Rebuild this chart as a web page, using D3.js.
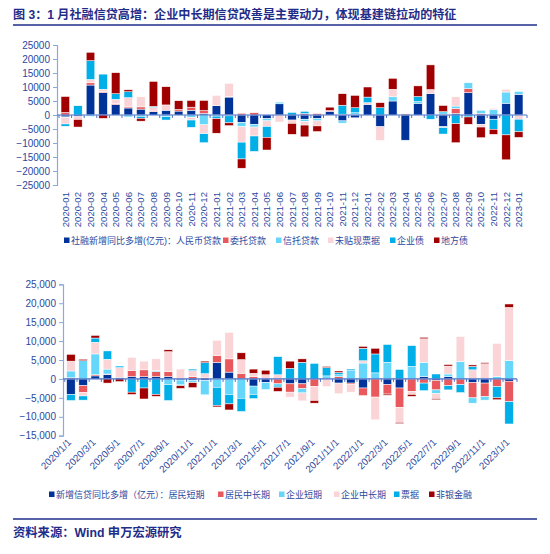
<!DOCTYPE html>
<html>
<head>
<meta charset="utf-8">
<script src="https://cdn.jsdelivr.net/npm/d3@7"></script>
<style>
  html, body { margin: 0; padding: 0; background: #fff; }
  svg { display: block; }
  text { font-family: "Liberation Sans", Arial, "Noto Sans CJK SC", sans-serif; }
</style>
</head>
<body>
<svg id="chart" width="550" height="554"></svg>
<script>
// ---------- Top chart data (社融新增同比多增, 亿元) ----------
const topMonths = ["2020-01","2020-02","2020-03","2020-04","2020-05","2020-06","2020-07","2020-08","2020-09","2020-10","2020-11","2020-12",
  "2021-01","2021-02","2021-03","2021-04","2021-05","2021-06","2021-07","2021-08","2021-09","2021-10","2021-11","2021-12",
  "2022-01","2022-02","2022-03","2022-04","2022-05","2022-06","2022-07","2022-08","2022-09","2022-10","2022-11","2022-12","2023-01"];
const rmbLoan     = [-700,-600,10700,8000,3700,2500,2100,1200,1700,1400,1700,600, 3300,6400,-2700,-3300,-1300,4000,-1800,-1500,-1300,1300,-2100,-1000, 3800,-4200,5000,-9000,4200,7700,-4200,600,8000,-3300,-1500,4200,7400];
const entrustLoan = [900,0,800,400,400,400,800,200,0,600,1100,1000, 0,200,600,800,0,0,0,500,500,300,300,200, 0,0,0,400,0,0,300,1800,1400,500,0,0,0];
const trustLoan   = [-200,0,-500,0,0,-700,-500,0,-600,0,-800,-3500, -400,-300,-1500,-1000,-800,600,0,-800,-800,0,-800,600, 0,0,1500,200,600,0,900,800,2100,1200,1900,4000,1000];
const undiscBill  = [-2300,-1000,1200,800,1500,3300,3600,1300,1900,0,-1000,-3200, 3700,4700,-5500,-3200,-2000,-2500,-1200,-1300,-1800,0,0,0, 600,-4900,2700,0,0,1400,-300,3300,0,-1000,500,1000,-1500];
const corpBond    = [-800,3300,6700,5400,2000,2100,-700,400,-1200,0,-2600,-3200, -900,-2500,-6000,-5500,-3900,0,900,800,0,0,3200,1800, 2000,2600,0,0,1800,-1500,-2300,-3100,-700,0,-3600,-7100,-4500];
const localBond   = [5700,-2700,3000,-1200,7500,700,-1000,8900,6500,3100,2400,3600, -5200,-1000,-3300,0,-4500,0,-3900,-4200,-2000,1200,4100,4400, 3600,1800,3900,0,3800,8800,2200,-6800,-2600,-3800,-1800,-8900,-2000];
const topTicks = [25000,20000,15000,10000,5000,0,-5000,-10000,-15000,-20000,-25000];
const topLegendLabels = ["社融新增同比多增(亿元)：人民币贷款","委托贷款","信托贷款","未贴现票据","企业债","地方债"];

// ---------- Bottom chart data (新增信贷同比多增, 亿元) ----------
const botMonths = ["2020/1/1","2020/2/1","2020/3/1","2020/4/1","2020/5/1","2020/6/1","2020/7/1","2020/8/1","2020/9/1","2020/10/1","2020/11/1","2020/12/1",
  "2021/1/1","2021/2/1","2021/3/1","2021/4/1","2021/5/1","2021/6/1","2021/7/1","2021/8/1","2021/9/1","2021/10/1","2021/11/1","2021/12/1",
  "2022/1/1","2022/2/1","2022/3/1","2022/4/1","2022/5/1","2022/6/1","2022/7/1","2022/8/1","2022/9/1","2022/10/1","2022/11/1","2022/12/1","2023/1/1"];
const hhShort   = [-4100,-1800,800,1100,400,600,600,600,600,-300,-400,-400, 4400,1800,0,-1900,-900,0,-1300,-1300,0,0,-1100,-1100, -2400,0,-1500,-2400,0,600,-400,600,0,-1000,-1100,0,-600];
const hhLong    = [300,-1800,300,200,0,1600,1800,1300,1300,0,600,400, 1800,3500,1500,600,0,-1300,-2200,-1300,-2000,0,600,-400, -2000,-4800,-2500,-5100,-3300,-1100,-2500,-1800,-1500,-4000,-3600,-2000,-5400];
const corpShort = [1800,4800,5500,1300,0,0,0,300,-1500,-1200,-600,-3800, -2200,-4100,-5100,-2200,-1900,-900,0,-1100,0,800,500,2200, 4200,1600,4400,0,3300,3800,-1000,700,4600,-1400,-900,600,4800];
const corpLong  = [2600,-900,3100,2600,2600,3500,2300,3100,5300,2600,1600,1000, 4000,7000,3600,900,1100,1100,-1300,-2100,-3700,-2000,-2800,-2000, 600,-6000,0,-4000,-800,6200,-1300,2100,6600,2400,4000,8800,14100];
const billFin   = [-1600,-1100,1100,2200,400,-3500,-2400,-4100,-4200,-300,400,2900, -4800,-2500,-3500,-1100,0,4800,2800,4400,4100,2200,600,400, 3300,5000,4700,2500,5500,-2000,1300,-1100,-2100,900,0,-3000,-5900];
const nonBank   = [1800,400,700,-1100,-700,-600,-2900,-500,500,-700,-1300,400, -400,-1600,1800,1100,1200,-1100,1900,900,-700,300,400,0, 500,1500,-300,-300,-500,400,-300,400,0,400,300,-500,900];
const botTicks = [25000,20000,15000,10000,5000,0,-5000,-10000,-15000];
const botLegendLabels = ["新增信贷同比多增（亿元）：居民短期","居民中长期","企业短期","企业中长期","票据","非银金融"];

const colors = ["#003399","#e8585c","#66d6fa","#fad4d6","#00aee8","#a00000"];
const textBlue = "#2a48a0";
const axisBlue = "#8aa9dc";
const navy = "#1f2d8a";

const svg = d3.select("#chart");

// Title
svg.append("text").attr("x", 13).attr("y", 19)
  .attr("font-size", 12.1).attr("font-weight", "bold").attr("fill", navy)
  .attr("font-family", "'Noto Sans CJK SC', sans-serif")
  .text("图 3：1 月社融信贷高增：企业中长期信贷改善是主要动力，体现基建链拉动的特征");
svg.append("line").attr("x1", 13).attr("x2", 537).attr("y1", 25).attr("y2", 25)
  .attr("stroke", navy).attr("stroke-width", 1.6);

// Footer
svg.append("line").attr("x1", 13).attr("x2", 537).attr("y1", 519).attr("y2", 519)
  .attr("stroke", navy).attr("stroke-width", 1.6);
svg.append("text").attr("x", 13).attr("y", 537)
  .attr("font-size", 12.3).attr("font-weight", "bold").attr("fill", navy)
  .attr("font-family", "'Noto Sans CJK SC', sans-serif")
  .text("资料来源：Wind  申万宏源研究");

function drawChart(cfg) {
  const keys = d3.range(cfg.series.length);
  const rows = cfg.cats.map((c, i) => {
    const r = { cat: c };
    keys.forEach(k => r[k] = cfg.series[k][i]);
    return r;
  });
  const stacked = d3.stack().keys(keys).offset(d3.stackOffsetDiverging)(rows);

  const x = d3.scaleBand().domain(cfg.cats).range([cfg.x0, cfg.x1]).padding(cfg.pad);
  const y = d3.scaleLinear().domain([cfg.ticks[cfg.ticks.length-1], cfg.ticks[0]]).range([cfg.yBottom, cfg.yTop]);

  const g = svg.append("g");

  g.selectAll("g.series").data(stacked).join("g")
    .attr("class", "series")
    .attr("fill", (d, i) => colors[i])
    .selectAll("rect").data(d => d).join("rect")
    .attr("x", d => x(d.data.cat))
    .attr("width", x.bandwidth())
    .attr("y", d => y(Math.max(d[0], d[1])))
    .attr("height", d => Math.abs(y(d[0]) - y(d[1])))
    .attr("stroke", "#fff").attr("stroke-width", 0.5);

  const yAxis = d3.axisLeft(y).tickValues(cfg.ticks).tickSize(4).tickFormat(cfg.fmt);
  const ya = g.append("g").attr("transform", `translate(${cfg.x0},0)`).call(yAxis);
  ya.select(".domain").attr("stroke", axisBlue).attr("stroke-width", 1.2);
  ya.selectAll(".tick line").attr("stroke", axisBlue);
  ya.selectAll(".tick text").attr("fill", textBlue).attr("font-size", 10)
    .attr("font-family", "'Liberation Sans', Arial, sans-serif");

  // zero line with ticks at band boundaries
  const za = g.append("g").attr("transform", `translate(0,${y(0)})`);
  za.append("line").attr("x1", cfg.x0).attr("x2", cfg.x1).attr("stroke", "#4a72c8").attr("stroke-width", 1.2);
  const bounds = cfg.cats.map(c => x(c) - (x.step() - x.bandwidth()) / 2).concat([cfg.x1]);
  za.selectAll("line.tk").data(bounds).join("line").attr("class", "tk")
    .attr("x1", d => d).attr("x2", d => d).attr("y1", 0).attr("y2", 3)
    .attr("stroke", "#4a72c8").attr("stroke-width", 1);
  return { x, y, g };
}

// ---------- Top chart ----------
const topChart = drawChart({
  cats: topMonths,
  series: [rmbLoan, entrustLoan, trustLoan, undiscBill, corpBond, localBond],
  x0: 57, x1: 527, pad: 0.32,
  yTop: 45, yBottom: 185, ticks: topTicks, fmt: d3.format("d")
});
topChart.g.selectAll("text.xl").data(topMonths).join("text")
  .attr("class", "xl")
  .attr("transform", d => `translate(${topChart.x(d) + topChart.x.bandwidth()/2 + 3.5},192) rotate(-90)`)
  .attr("text-anchor", "end")
  .attr("font-size", 9.6).attr("fill", textBlue)
  .attr("font-family", "'Liberation Sans', Arial, sans-serif")
  .text(d => d);

function legend(labels, xs, yc) {
  labels.forEach((t, i) => {
    svg.append("rect").attr("x", xs[i]).attr("y", yc - 2.5).attr("width", 5.5).attr("height", 5.5).attr("fill", colors[i]);
    svg.append("text").attr("x", xs[i] + 7).attr("y", yc + 3.5)
      .attr("font-size", 9).attr("fill", textBlue)
      .attr("font-family", "'Noto Sans CJK SC', sans-serif")
      .text(t);
  });
}
legend(topLegendLabels, [64, 223, 276, 328, 390, 434], 240);

// ---------- Bottom chart ----------
const botChart = drawChart({
  cats: botMonths,
  series: [hhShort, hhLong, corpShort, corpLong, billFin, nonBank],
  x0: 63, x1: 517, pad: 0.3,
  yTop: 284.3, yBottom: 435.7, ticks: botTicks, fmt: d3.format(",")
});
botChart.g.selectAll("text.xl").data(botMonths.filter((d, i) => i % 2 === 0)).join("text")
  .attr("class", "xl")
  .attr("transform", d => `translate(${botChart.x(d) + botChart.x.bandwidth()/2 + 1},443) rotate(-45)`)
  .attr("text-anchor", "end")
  .attr("font-size", 9.8).attr("fill", textBlue)
  .attr("font-family", "'Liberation Sans', Arial, sans-serif")
  .text(d => d);
legend(botLegendLabels, [49, 218, 279, 334, 394, 429], 494);
</script>
</body>
</html>
